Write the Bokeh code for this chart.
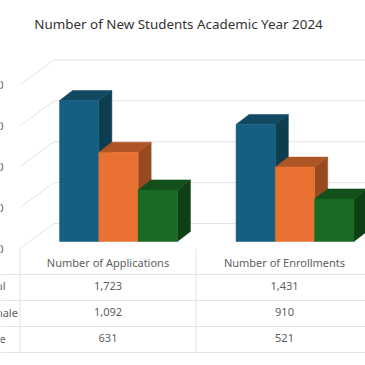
from bokeh.plotting import figure
from bokeh.models import Range1d
from bokeh.core.properties import value
from bokeh.embed import file_html
from bokeh.resources import INLINE

title = "Number of New Students Academic Year 2024"
categories = ["Number of Applications", "Number of Enrollments"]
series = ["Total", "Female", "Male"]
total = [1723, 1431]
female = [1092, 910]
male = [631, 521]
ticks = [0, 500, 1000, 1500, 2000]
tick_labels = ["0", "500", "1,000", "1,500", "2,000"]

W = H = 365
PX_PER_CAT = 176.5
PX_PER_VAL = 0.0818
X0 = 107.5   # pixel of category 0
Y0 = 241.0   # pixel of value 0

p = figure(width=W, height=H, output_backend="svg", toolbar_location=None,
           x_range=Range1d(-X0 / PX_PER_CAT, (W - X0) / PX_PER_CAT),
           y_range=Range1d((Y0 - H) / PX_PER_VAL, Y0 / PX_PER_VAL),
           min_border=0, outline_line_color=None, background_fill_color="white")
p.axis.visible = False
p.grid.visible = False

def dx(px): return px / PX_PER_CAT
def dy(px): return px / PX_PER_VAL
def xp(px): return (px - X0) / PX_PER_CAT
def yp(py): return (Y0 - py) / PX_PER_VAL

GRID = "#e3e3e3"
TXT = "#606060"
FONT = value("Noto Sans")

# walls: side wall and back wall gridlines
for t in ticks:
    p.line([xp(19.5), xp(53.5)], [t + dy(-7), t + dy(18)], line_color=GRID, line_width=1)
    p.line([xp(53.5), xp(365)], [t + dy(18), t + dy(18)], line_color=GRID, line_width=1)

# tick labels
p.text([xp(3)] * len(ticks), [t + dy(-7.5) for t in ticks], text=tick_labels,
       text_align="right", text_baseline="middle", text_font=FONT,
       text_font_size="11px", text_color=TXT)

# bars
BAR_W = dx(39.3)
DX, DY = dx(13), dy(10)
OFF = [-1.5, -0.5, 0.5]
SHIFT = dx(10.5)
COLS = [("#156082", "#124862", "#0C3E50"),
        ("#E97132", "#AE5425", "#97491F"),
        ("#196B24", "#134F1B", "#0F4015")]
for i, vals in enumerate([total, female, male]):
    front, top, side = COLS[i]
    for c, v in enumerate(vals):
        l = c + SHIFT + OFF[i] * BAR_W
        r = l + BAR_W
        p.patch([r, r + DX, r + DX, r], [0, DY, v + DY, v], fill_color=side, line_color=side, line_width=0.5)
        p.patch([l, r, r + DX, l + DX], [v, v, v + DY, v + DY], fill_color=top, line_color=top, line_width=0.5)
        p.quad(left=l, right=r, bottom=0, top=v, fill_color=front, line_color=front, line_width=0.5)

# data table
TABLE_X = [19.5, 195.5]
TABLE_Y = [274, 300, 326, 352]
for x in TABLE_X:
    p.line([xp(x), xp(x)], [yp(248), yp(352)], line_color=GRID, line_width=1)
for y in TABLE_Y:
    p.line([xp(0), xp(365)], [yp(y), yp(y)], line_color=GRID, line_width=1)

p.text(list(range(len(categories))), [yp(262)] * 2, text=categories, text_align="center",
       text_baseline="middle", text_font=FONT, text_font_size="11px", text_color=TXT)
ROWS = [285, 311.5, 337.5]
for i, vals in enumerate([total, female, male]):
    p.text([0, 1], [yp(ROWS[i])] * 2, text=[f"{v:,}" for v in vals], text_align="center",
           text_baseline="middle", text_font=FONT, text_font_size="11px", text_color=TXT)
    p.text([xp(-20)], [yp(ROWS[i])], text=[series[i]], text_align="left", text_baseline="middle",
           text_font=FONT, text_font_size="11px", text_color=TXT)

p.text([xp(178)], [yp(23.5)], text=[title], text_align="center", text_baseline="middle",
       text_font=FONT, text_font_size="13.4px", text_font_style="normal", text_color="#333333")

open("out.html", "w").write(file_html(p, INLINE))
